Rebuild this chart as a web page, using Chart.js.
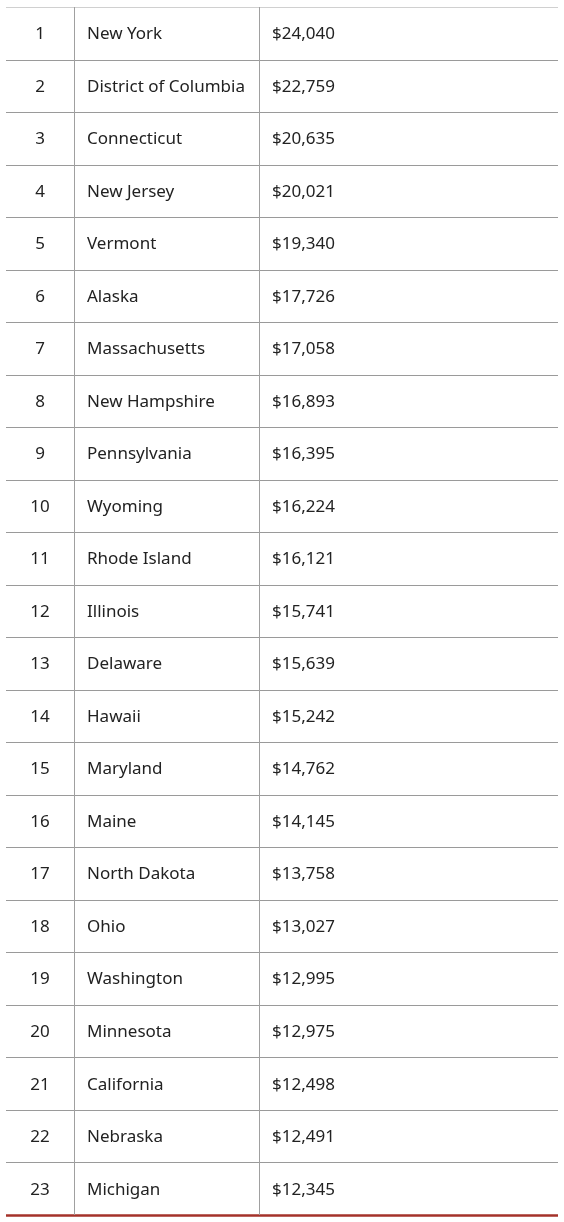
<!DOCTYPE html>
<html><head><meta charset="utf-8">
<script src="https://cdn.jsdelivr.net/npm/chart.js@4/dist/chart.umd.min.js"></script>
<style>html,body{margin:0;padding:0;background:#fff}#wrap{width:564px;height:1222px;position:relative}</style>
</head><body><div id="wrap"><canvas id="c"></canvas></div>
<script>
const ranks = [1,2,3,4,5,6,7,8,9,10,11,12,13,14,15,16,17,18,19,20,21,22,23];
const states = ["New York","District of Columbia","Connecticut","New Jersey","Vermont","Alaska","Massachusetts","New Hampshire","Pennsylvania","Wyoming","Rhode Island","Illinois","Delaware","Hawaii","Maryland","Maine","North Dakota","Ohio","Washington","Minnesota","California","Nebraska","Michigan"];
const values = [24040,22759,20635,20021,19340,17726,17058,16893,16395,16224,16121,15741,15639,15242,14762,14145,13758,13027,12995,12975,12498,12491,12345];
const columns = ["Rank","State","Value"];

const tablePlugin = {
  id:'table',
  afterDraw(chart){
    const ctx = chart.ctx, y = chart.scales.y, x = chart.scales.x, a = chart.chartArea;
    ctx.save();
    const n = states.length;
    const step = (y.getPixelForValue(1) - y.getPixelForValue(0));
    // horizontal lines
    for (let i=0;i<=n;i++){
      const py = (i<n ? y.getPixelForValue(i) - step/2 : y.getPixelForValue(n-1) + step/2);
      ctx.beginPath();
      if (i===n){ ctx.strokeStyle='#a4322a'; ctx.lineWidth=2.5; }
      else if (i===0){ ctx.strokeStyle='#d0d0d0'; ctx.lineWidth=1; }
      else { ctx.strokeStyle='#9a9a9a'; ctx.lineWidth=1; }
      const yy = Math.round(py)+0.5;
      ctx.moveTo(a.left, yy); ctx.lineTo(a.right, yy); ctx.stroke();
    }
    // vertical lines
    ctx.strokeStyle='#a0a0a0'; ctx.lineWidth=1;
    [1,2].forEach(c=>{
      const px = Math.round(x.getPixelForValue(c))+0.5;
      ctx.beginPath(); ctx.moveTo(px, a.top); ctx.lineTo(px, a.bottom); ctx.stroke();
    });
    ctx.fillStyle='#222'; ctx.font='17px "Noto Sans", sans-serif'; ctx.textBaseline='middle';
    for (let i=0;i<n;i++){
      const py = y.getPixelForValue(i)+1;
      ctx.textAlign='center';
      ctx.fillText(String(ranks[i]), (x.getPixelForValue(0)+x.getPixelForValue(1))/2, py);
      ctx.textAlign='left';
      ctx.fillText(states[i], x.getPixelForValue(1)+13, py);
      ctx.fillText('$'+values[i].toLocaleString('en-US'), x.getPixelForValue(2)+13, py);
    }
    ctx.restore();
  }
};

new Chart(document.getElementById('c'), {
  type:'bar',
  data:{ labels: states.map((s,i)=>i), datasets:[{data: values.map(()=>null), indexAxis:'y'}]},
  options:{
    indexAxis:'y', responsive:true, maintainAspectRatio:false, animation:false,
    layout:{padding:{left:6,right:6,top:7,bottom:7}},
    plugins:{legend:{display:false},tooltip:{enabled:false}},
    scales:{
      y:{type:'category', display:false, offset:true},
      x:{type:'linear', display:false, min:0, max:552, afterBuildTicks(){},
         }
    }
  },
  plugins:[{
    id:'colmap',
    beforeInit(chart){
      // map column index to x-scale units via boundaries
    }
  }, {
    id:'table',
    afterDraw(chart){
      const xs = chart.scales.x;
      const bounds=[0,68,253,552];
      const proxy = {getPixelForValue:(c)=>xs.getPixelForValue(bounds[c])};
      tablePlugin.afterDraw({ctx:chart.ctx, scales:{x:proxy,y:chart.scales.y}, chartArea:chart.chartArea});
    }
  }]
});
</script></body></html>
